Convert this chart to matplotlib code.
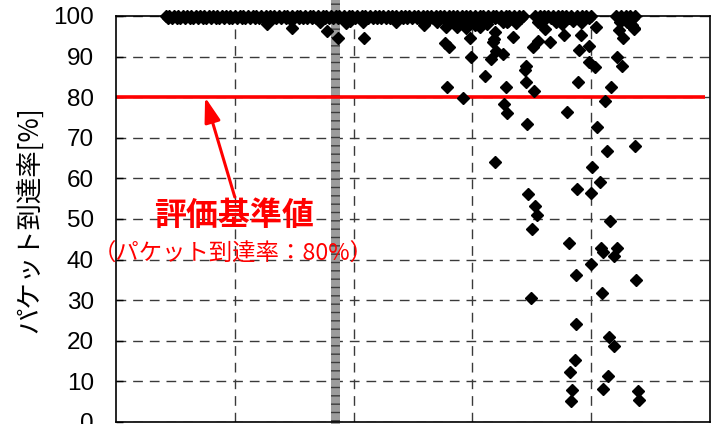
import matplotlib
matplotlib.use("Agg")
import matplotlib.pyplot as plt
from matplotlib.patches import Rectangle

# Packet delivery rate per measurement point (x: position, y: rate [%])
full_x = [0.42, 0.45, 0.49, 0.52, 0.56, 0.60, 0.63, 0.67, 0.71, 0.74, 0.78, 0.82,
          0.85, 0.89, 0.93, 0.96, 1.00, 1.04, 1.07, 1.11, 1.15, 1.18, 1.22, 1.26,
          1.30, 1.33, 1.37, 1.41, 1.44, 1.48, 1.52, 1.55, 1.59, 1.63, 1.66, 1.70,
          1.74, 1.77, 1.81, 1.85, 1.88, 1.92, 1.96, 1.99, 2.03, 2.07, 2.10, 2.14,
          2.18, 2.21, 2.25, 2.29, 2.32, 2.36, 2.40, 2.43, 2.47, 2.51, 2.54, 2.58,
          2.62, 2.65, 2.69, 2.73, 2.76, 2.80, 2.84, 2.87, 2.91, 2.95, 2.98, 3.02,
          3.06, 3.09, 3.13, 3.17, 3.20, 3.24, 3.28, 3.31, 3.35, 3.39, 3.43,
          3.53, 3.57, 3.60, 3.64, 3.68, 3.72, 3.75, 3.79, 3.83,
          3.88, 3.92, 3.96, 4.00,
          4.21, 4.25, 4.29, 4.33, 4.37]
full_y = [100] * len(full_x)

high_x = [0.44, 0.47, 0.51, 0.54, 0.58, 0.62, 0.65, 0.69, 0.73, 0.76, 0.80, 0.84,
          0.87, 0.91, 0.95, 0.98, 1.02, 1.06, 1.09, 1.13, 1.17, 1.20, 1.24, 1.28,
          1.32, 1.35, 1.39, 1.43, 1.46, 1.50, 1.54, 1.57, 1.61, 1.65, 1.68, 1.72,
          1.76, 1.79, 1.83, 1.87, 1.90, 1.94, 1.98, 2.01, 2.05, 2.09, 2.12, 2.16,
          2.20, 2.23, 2.27, 2.31, 2.34, 2.38, 2.42, 2.45, 2.49, 2.53, 2.56, 2.60,
          2.64, 2.67, 2.71, 2.75, 2.78, 2.82, 2.86, 2.89, 2.93, 2.97, 3.00, 3.04,
          3.08, 3.11, 3.15, 3.19, 3.22, 3.26, 3.30, 3.33, 3.37, 3.41,
          3.55, 3.59, 3.62, 3.66, 3.70, 3.74, 3.77, 3.81,
          3.90, 3.94, 3.98,
          4.23, 4.27, 4.31, 4.35]
high_y = [99.6] * len(high_x)

near_x = [1.27, 1.48, 1.72, 1.78, 1.87, 1.94, 1.97, 2.08, 2.09, 2.36, 2.59, 2.70,
          2.78, 2.84, 2.87, 2.90, 2.95, 3.00, 3.02, 3.06, 3.07, 3.12, 3.26, 3.29,
          3.30, 3.37, 3.55, 3.57, 3.70, 3.75, 3.85, 3.91, 3.92, 4.24, 4.30, 4.34,
          4.36]
near_y = [98.1, 97.0, 98.5, 96.3, 94.7, 98.2, 98.8, 98.6, 94.7, 98.6, 97.8, 98.6,
          97.4, 98.8, 97.4, 98.2, 97.0, 98.6, 97.8, 97.4, 98.9, 98.0, 98.4, 98.5,
          98.8, 98.2, 98.6, 98.5, 98.6, 98.0, 98.8, 98.5, 98.6, 98.5, 98.6, 97.8,
          97.0]

low_x = [2.77, 2.80, 2.98, 2.99, 2.79, 2.92, 3.16, 3.11, 3.20, 3.19, 3.18, 3.17,
         3.26, 3.28, 3.27, 3.29, 3.46, 3.19, 3.47, 3.34, 3.45, 3.44, 3.45, 3.52,
         3.51, 3.55, 3.65, 3.61, 3.77, 3.80, 3.89, 3.90, 3.91, 3.98, 3.98, 4.03,
         4.04, 4.05, 4.13, 4.37, 4.01, 4.07, 4.00, 3.88, 4.12, 4.17, 4.22, 4.26,
         4.23, 4.36, 4.27,
         3.53, 3.54, 3.50, 4.16, 3.81, 4.08, 4.10, 4.22, 4.19, 4.00, 3.87, 4.38,
         4.09, 3.49, 3.87, 4.15, 4.19, 3.86, 3.82, 4.14, 3.84, 4.10, 4.39, 3.83,
         4.40]
low_y = [93.3, 92.3, 94.7, 89.8, 82.4, 79.9, 89.3, 85.3, 91.4, 96.1, 94.3, 93.5,
         90.6, 82.4, 78.3, 76.2, 73.4, 64.1, 56.2, 94.8, 87.7, 86.7, 83.8, 81.5,
         92.4, 93.9, 93.7, 96.9, 95.3, 76.3, 83.8, 91.6, 95.2, 92.6, 88.7, 87.5,
         97.3, 72.6, 66.8, 68.0, 62.7, 59.2, 56.5, 57.3, 79.1, 82.4, 89.8, 87.7,
         96.6, 96.8, 94.5,
         53.3, 51.0, 47.5, 49.6, 44.0, 42.8, 41.9, 42.8, 40.8, 38.8, 36.2, 35.0,
         31.7, 30.6, 24.1, 21.0, 18.8, 15.3, 12.2, 11.3, 7.9, 8.1, 7.7, 5.2,
         5.3]

threshold = 80
yticks = [0, 10, 20, 30, 40, 50, 60, 70, 80, 90, 100]
xgrid = [1, 2, 3, 4]
band_x = 1.85

W, H = 722, 424
fig = plt.figure(figsize=(W / 100, H / 100), dpi=100)
ax = fig.add_axes([116 / W, 2 / H, 594 / W, 406 / H])
ax.set_xlim(0, 5)
ax.set_ylim(0, 100)

ax.set_xticks(xgrid)
ax.set_yticks(yticks)
ax.tick_params(axis="x", length=0, labelbottom=False)
ax.tick_params(axis="y", direction="in", length=5, width=1, pad=16,
               labelsize=17.5)
for lab in ax.get_yticklabels():
    lab.set_fontfamily("Liberation Sans")

ax.grid(True, color="#3a3a3a", lw=1.0, linestyle=(0, (7, 5)))
ax.set_axisbelow(True)
for sp in ax.spines.values():
    sp.set_linewidth(1.2)
    sp.set_color("black")

# vertical grey marker band
ax.add_patch(Rectangle((band_x - 0.038, -3), 0.076, 108, facecolor="#9c9c9c",
                       edgecolor="#3c3c3c", hatch="--", lw=0, zorder=1.5,
                       clip_on=False))

# threshold line
ax.plot([0, 4.96], [threshold, threshold], color="#ff0000", lw=2.6, zorder=2,
        solid_capstyle="butt")

mk = dict(marker="D", ms=6.6, color="black", ls="none", clip_on=False, zorder=4)
ax.plot(full_x, full_y, **mk)
ax.plot(high_x, high_y, **mk)
ax.plot(near_x, near_y, **mk)
ax.plot(low_x, low_y, **mk)

ax.annotate("", xy=(0.75, threshold), xytext=(1.00, 55.4),
            arrowprops=dict(arrowstyle="-|>,head_length=0.75,head_width=0.24",
                            color="#ff0000", lw=2.2, mutation_scale=20,
                            shrinkA=0, shrinkB=0), zorder=5)

ax.text(0.99, 50.7, "評価基準値", color="#ff0000", fontsize=23,
        fontweight="bold", family="Noto Sans CJK JP", ha="center", va="center",
        zorder=5)
ax.text(0.99, 41.4, "（パケット到達率：80%）", color="#ff0000", fontsize=16.8,
        family="Noto Sans CJK JP", ha="center", va="center", zorder=5)

fig.text(30 / W, 1 - 220 / H, "パケット到達率[%]", rotation=90, fontsize=19,
         family="Noto Sans CJK JP", ha="center", va="center")

fig.savefig("out.png", dpi=100)
